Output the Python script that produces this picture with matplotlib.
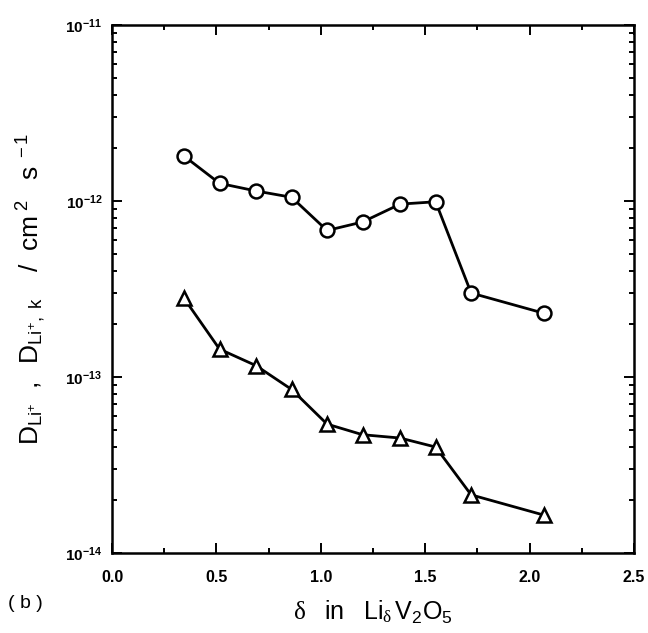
import numpy as np
import matplotlib
matplotlib.use("Agg")
import matplotlib.pyplot as plt
from matplotlib.ticker import LogLocator, MultipleLocator, NullFormatter

plt.rcParams['font.family'] = ['Liberation Sans', 'DejaVu Sans']
plt.rcParams['mathtext.fontset'] = 'custom'
plt.rcParams['mathtext.rm'] = 'Liberation Sans'
plt.rcParams['mathtext.it'] = 'Liberation Serif'
plt.rcParams['mathtext.bf'] = 'Liberation Sans:bold'

# 組成 δ
delta = [0.345, 0.515, 0.69, 0.86, 1.03, 1.20, 1.38, 1.55, 1.72, 2.07]
# 拡散係数 (○)
d_li = [1.80e-12, 1.26e-12, 1.14e-12, 1.05e-12, 6.8e-13, 7.6e-13,
        9.6e-13, 9.9e-13, 3.0e-13, 2.3e-13]
# 拡散係数 (△)
d_li_k = [2.80e-13, 1.44e-13, 1.16e-13, 8.5e-14, 5.4e-14, 4.7e-14,
          4.5e-14, 4.0e-14, 2.14e-14, 1.64e-14]

fig = plt.figure(figsize=(6.48, 6.33), dpi=100)
ax = fig.add_axes([112 / 648, 1 - 553 / 633, (634 - 112) / 648, (553 - 25) / 633])

style = dict(color='black', lw=2.0, mfc='white', mec='black', mew=1.8, ms=10)
ax.plot(delta, d_li, marker='o', **style)
ax.plot(delta, d_li_k, marker='^', **style)

ax.set_yscale('log')
ax.set_xlim(0.0, 2.5)
ax.set_ylim(1e-14, 1e-11)

ax.xaxis.set_minor_locator(MultipleLocator(0.25))
ax.yaxis.set_minor_locator(LogLocator(base=10, subs=np.arange(2, 10), numticks=20))
ax.yaxis.set_minor_formatter(NullFormatter())
ax.set_xticks([0.0, 0.5, 1.0, 1.5, 2.0, 2.5])
ax.set_xticklabels(['0.0', '0.5', '1.0', '1.5', '2.0', '2.5'], fontsize=11.5, fontweight='bold')
ax.set_yticks([1e-14, 1e-13, 1e-12, 1e-11])
ax.set_yticklabels([r'$\mathbf{10^{-14}}$', r'$\mathbf{10^{-13}}$',
                    r'$\mathbf{10^{-12}}$', r'$\mathbf{10^{-11}}$'], fontsize=11)

ax.tick_params(which='both', direction='in', top=True, right=True, width=1.4)
ax.tick_params(which='major', length=7)
ax.tick_params(which='minor', length=3.5)
ax.tick_params(axis='x', pad=12)
ax.tick_params(axis='y', pad=7)
for s in ax.spines.values():
    s.set_linewidth(1.8)

ax.set_xlabel(r'$\delta\ \ \ \mathrm{in}\ \ \ \mathrm{Li}_{\delta}\,\mathrm{V_2O_5}$',
              fontsize=18, labelpad=10)
ax.set_ylabel(r'$\mathrm{D_{Li^{+}}\ \ ,\ \ D_{Li^{+},\ k}\ \ \ \ /\ \ cm^{\ 2}\ \ \ s^{\ -1}}$',
              fontsize=19, labelpad=12)

fig.text(8 / 648, 1 - 603 / 633, '( b )', fontsize=14, va='center', ha='left')

fig.savefig('out.png', dpi=100)
